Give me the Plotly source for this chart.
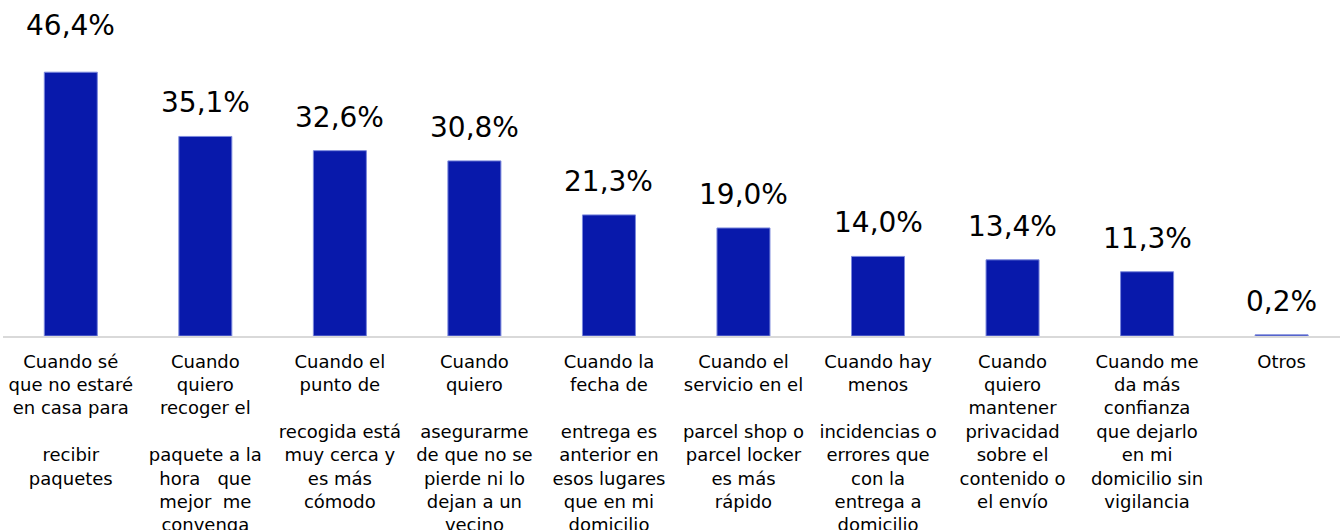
import plotly.graph_objects as go

# Reasons for choosing a pick-up point, share of respondents (%)
categories = [
    "Cuando sé<br>que no estaré<br>en casa para<br> <br>recibir<br>paquetes",
    "Cuando<br>quiero<br>recoger el<br> <br>paquete a la<br>hora\u00a0\u00a0\u00a0que<br>mejor\u00a0\u00a0me<br>convenga",
    "Cuando el<br>punto de<br> <br>recogida está<br>muy cerca y<br>es más<br>cómodo",
    "Cuando<br>quiero<br> <br>asegurarme<br>de que no se<br>pierde ni lo<br>dejan a un<br>vecino",
    "Cuando la<br>fecha de<br> <br>entrega es<br>anterior en<br>esos lugares<br>que en mi<br>domicilio",
    "Cuando el<br>servicio en el<br> <br>parcel shop o<br>parcel locker<br>es más<br>rápido",
    "Cuando hay<br>menos<br> <br>incidencias o<br>errores que<br>con la<br>entrega a<br>domicilio",
    "Cuando<br>quiero<br>mantener<br>privacidad<br>sobre el<br>contenido o<br>el envío",
    "Cuando me<br>da más<br>confianza<br>que dejarlo<br>en mi<br>domicilio sin<br>vigilancia",
    "Otros",
]
values = [46.4, 35.1, 32.6, 30.8, 21.3, 19.0, 14.0, 13.4, 11.3, 0.2]
value_labels = ["46,4%", "35,1%", "32,6%", "30,8%", "21,3%",
                "19,0%", "14,0%", "13,4%", "11,3%", "0,2%"]

FONT = "DejaVu Sans"
BAR_COLOR = "#0819ab"

x_idx = list(range(len(categories)))

fig = go.Figure(
    go.Bar(
        x=x_idx,
        y=values,
        width=0.394,
        marker=dict(color=BAR_COLOR, line=dict(color="#7b88dc", width=1)),
        hoverinfo="skip",
    )
)

# percentage labels floating above each bar; the tallest one sits a bit higher
top_value = max(values)
for i, (v, lab) in enumerate(zip(values, value_labels)):
    lift = 28 if v == top_value else 15
    fig.add_annotation(
        x=i, y=v, text=lab, showarrow=False,
        xanchor="center", yanchor="bottom", yshift=lift,
        font=dict(family=FONT, size=28, color="#000000"),
    )

fig.update_layout(
    width=1340,
    height=530,
    margin=dict(l=3, r=0, t=0, b=194, autoexpand=False),
    paper_bgcolor="white",
    plot_bgcolor="white",
    showlegend=False,
    font=dict(family=FONT, size=18, color="#000000"),
    xaxis=dict(
        range=[-0.504, 9.434],
        tickmode="array",
        tickvals=x_idx,
        ticktext=categories,
        showgrid=False,
        zeroline=False,
        showline=True,
        linecolor="#d9d9d9",
        linewidth=2,
        ticks="",
        layer="below traces",
        automargin=False,
        tickfont=dict(family=FONT, size=18, color="#000000"),
        ticklabelstandoff=8,
    ),
    yaxis=dict(
        range=[0, 59.1],
        visible=False,
        showgrid=False,
        zeroline=False,
        automargin=False,
    ),
)

fig.write_html("out.html")
